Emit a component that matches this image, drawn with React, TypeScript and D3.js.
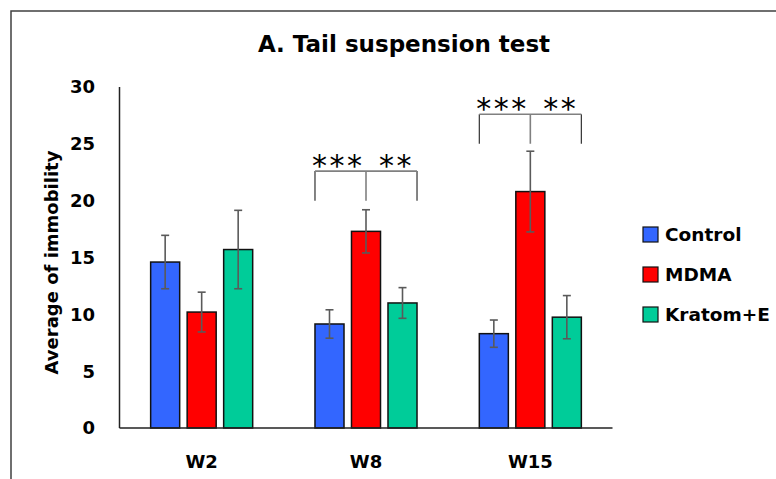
import React, { useEffect, useRef } from 'react';
import * as d3 from 'd3';

const weeks = ['W2', 'W8', 'W15'];
const groups = ['Control', 'MDMA', 'Kratom+E'];
const colors = ['#3366FF', '#FF0000', '#00CC99'];
const means = [
  [14.6, 10.2, 15.7],
  [9.15, 17.3, 11.0],
  [8.3, 20.8, 9.75],
];
const errors = [
  [2.35, 1.75, 3.45],
  [1.25, 1.9, 1.35],
  [1.2, 3.55, 1.9],
];
const yTicks = [0, 5, 10, 15, 20, 25, 30];
// significance brackets: week, top of bracket, bottom of legs, left stars, right stars
const brackets = [
  { week: 'W8', top: 22.6, bottom: 20.0, left: '***', right: '**' },
  { week: 'W15', top: 27.6, bottom: 25.0, left: '***', right: '**' },
];

const W = 776;
const H = 479;
const font = 'DejaVu Sans, Verdana, sans-serif';

export default function App() {
  const ref = useRef<SVGSVGElement>(null);

  useEffect(() => {
    const svg = d3.select(ref.current);
    svg.selectAll('*').remove();

    const left = 119.5, right = 612.5, top = 87, bottom = 428;

    const x = d3.scaleBand().domain(weeks).range([left, right]).paddingInner(0).paddingOuter(0);
    const inner = d3.scaleBand().domain(groups)
      .range([31.15, x.bandwidth() - 31.15]).paddingInner(0.205).paddingOuter(0);
    const y = d3.scaleLinear().domain([0, 30]).range([bottom, top]);

    // outer frame
    svg.append('path')
      .attr('d', `M11,${H} L11,11 L${W},11`)
      .attr('fill', 'none')
      .attr('stroke', '#404040')
      .attr('stroke-width', 1.5);

    // title
    svg.append('text')
      .attr('x', 404).attr('y', 52)
      .attr('text-anchor', 'middle')
      .attr('font-family', font).attr('font-weight', 'bold').attr('font-size', 23)
      .text('A. Tail suspension test');

    // y tick labels
    svg.append('g').selectAll('text').data(yTicks).join('text')
      .attr('x', 95).attr('y', d => y(d))
      .attr('dy', '0.36em')
      .attr('text-anchor', 'end')
      .attr('font-family', font).attr('font-weight', 'bold').attr('font-size', 18)
      .text(d => d);

    // y label
    svg.append('text')
      .attr('transform', `translate(58,${(top + bottom) / 2 + 5}) rotate(-90)`)
      .attr('text-anchor', 'middle')
      .attr('font-family', font).attr('font-weight', 'bold').attr('font-size', 18)
      .text('Average of immobility');

    // bars
    const g = svg.append('g');
    weeks.forEach((wk, i) => {
      groups.forEach((grp, j) => {
        const bx = x(wk)! + inner(grp)!;
        g.append('rect')
          .attr('x', bx).attr('y', y(means[i][j]))
          .attr('width', inner.bandwidth())
          .attr('height', y(0) - y(means[i][j]))
          .attr('fill', colors[j])
          .attr('stroke', '#111').attr('stroke-width', 1.5);
      });
    });

    // error bars
    weeks.forEach((wk, i) => {
      groups.forEach((grp, j) => {
        const cx = x(wk)! + inner(grp)! + inner.bandwidth() / 2;
        const hi = y(means[i][j] + errors[i][j]);
        const lo = y(means[i][j] - errors[i][j]);
        const eb = g.append('g').attr('stroke', '#5a5a5a').attr('stroke-width', 1.6);
        eb.append('line').attr('x1', cx).attr('x2', cx).attr('y1', hi).attr('y2', lo);
        eb.append('line').attr('x1', cx - 4).attr('x2', cx + 4).attr('y1', hi).attr('y2', hi);
        eb.append('line').attr('x1', cx - 4).attr('x2', cx + 4).attr('y1', lo).attr('y2', lo);
      });
    });

    // axes
    svg.append('line')
      .attr('x1', left).attr('x2', left).attr('y1', top).attr('y2', bottom)
      .attr('stroke', '#222').attr('stroke-width', 1.5);
    svg.append('line')
      .attr('x1', left).attr('x2', right).attr('y1', bottom).attr('y2', bottom)
      .attr('stroke', '#222').attr('stroke-width', 1.5);

    // x labels
    svg.append('g').selectAll('text').data(weeks).join('text')
      .attr('x', d => x(d)! + x.bandwidth() / 2)
      .attr('y', 468)
      .attr('text-anchor', 'middle')
      .attr('font-family', font).attr('font-weight', 'bold').attr('font-size', 18)
      .text(d => d);

    // significance brackets
    brackets.forEach(b => {
      const x0 = x(b.week)! + inner(groups[0])!;
      const x2 = x(b.week)! + inner(groups[2])! + inner.bandwidth();
      const xc = x(b.week)! + inner(groups[1])! + inner.bandwidth() / 2;
      const yt = y(b.top), yb = y(b.bottom);
      svg.append('path')
        .attr('d', `M${x0},${yb} L${x0},${yt} M${x2},${yb} L${x2},${yt}`)
        .attr('stroke', '#333').attr('stroke-width', 1.2).attr('fill', 'none');
      svg.append('path')
        .attr('d', `M${x0},${yt} L${x2},${yt} M${xc},${yt} L${xc},${yb}`)
        .attr('stroke', '#808080').attr('stroke-width', 1.6).attr('fill', 'none');
      svg.append('text')
        .attr('x', x0 - 3).attr('y', yt + 5)
        .attr('font-family', font).attr('font-size', 30).attr('letter-spacing', 2.5)
        .text(b.left);
      svg.append('text')
        .attr('x', (xc + x2) / 2 + 5).attr('y', yt + 5)
        .attr('text-anchor', 'middle')
        .attr('font-family', font).attr('font-size', 30).attr('letter-spacing', 2.5)
        .text(b.right);
    });

    // legend
    const lg = svg.append('g').selectAll('g').data(groups).join('g')
      .attr('transform', (d, i) => `translate(643,${234.5 + i * 40})`);
    lg.append('rect')
      .attr('x', 0).attr('y', -7.5).attr('width', 15).attr('height', 15)
      .attr('fill', (d, i) => colors[i])
      .attr('stroke', '#111').attr('stroke-width', 1.2);
    lg.append('text')
      .attr('x', 22).attr('y', 0).attr('dy', '0.36em')
      .attr('font-family', font).attr('font-weight', 'bold').attr('font-size', 18.5)
      .text(d => d);
  }, []);

  return (
    <svg ref={ref} width={W} height={H}
      style={{ position: 'absolute', left: 0, top: 0, background: '#fff' }} />
  );
}
